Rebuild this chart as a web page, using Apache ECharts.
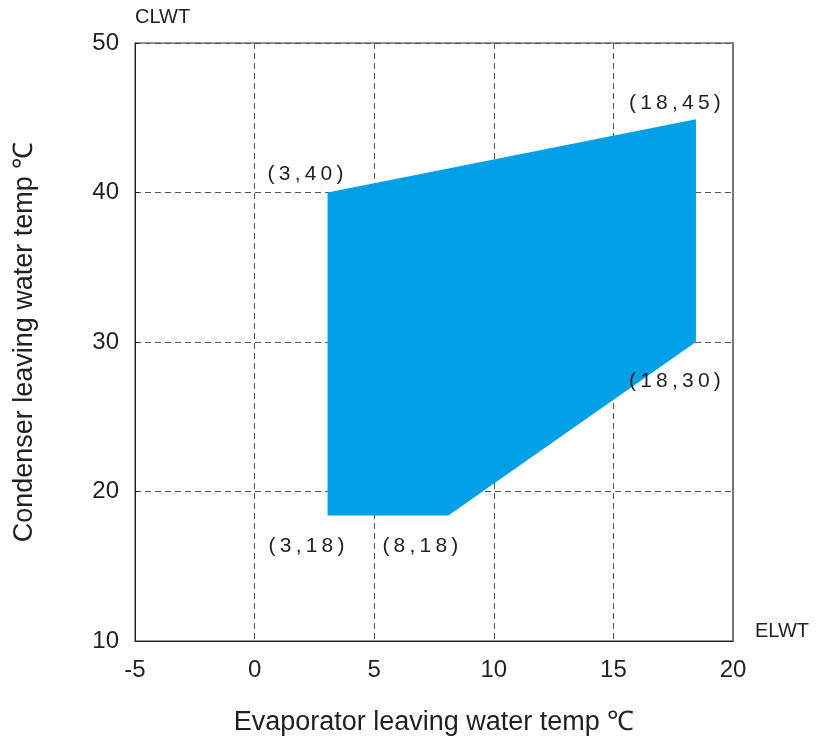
<!DOCTYPE html>
<html>
<head>
<meta charset="utf-8">
<script src="https://cdn.jsdelivr.net/npm/echarts@6/dist/echarts.min.js"></script>
<style>
  html, body { margin: 0; padding: 0; background: #fff; }
  #main { width: 816px; height: 738px; }
</style>
</head>
<body>
<div id="main"></div>
<script>
// operating envelope outline (ELWT, CLWT)
var envX = [3.05, 18.45, 18.45, 8.1, 3.05];
var envY = [40, 44.9, 30, 18.4, 18.4];
var cornerLabels = ['(3,40)', '(18,45)', '(18,30)', '(8,18)', '(3,18)'];

var xMin = -5, xMax = 20, xStep = 5;
var yMin = 10, yMax = 50, yStep = 10;

var ink = '#231f20';
var font = '"Liberation Sans", Arial, sans-serif';

// the printed corner labels are letter-spaced
function spaced(s) {
  return String(s).split('').join('\u2009');
}

var chart = echarts.init(document.getElementById('main'));

// label centre relative to its corner, px
var labelOffsets = [[-22, -18], [-21, -16], [-21, 39], [-28, 31], [-21, 31]];

var pts = envX.map(function (x, i) { return [x, envY[i]]; });

var gridDash = { color: '#555', type: [6, 4], width: 1 };

var option = {
  backgroundColor: '#fff',
  animation: false,
  grid: {
    left: 135, right: 83, top: 43, bottom: 97,
    outerBoundsMode: 'none',
    show: true,
    borderColor: '#333',
    borderWidth: 1
  },
  xAxis: {
    type: 'value',
    min: xMin, max: xMax, interval: xStep,
    name: 'Evaporator leaving water temp \u2103',
    nameLocation: 'middle',
    nameGap: 68,
    nameTextStyle: { color: ink, fontSize: 27, fontFamily: font },
    axisLine: { show: true, onZero: false, lineStyle: { color: ink, width: 1 } },
    axisTick: { show: false },
    axisLabel: { color: ink, fontSize: 24, fontFamily: font, margin: 17 },
    splitLine: { show: true, lineStyle: gridDash }
  },
  yAxis: [{
    type: 'value',
    min: yMin, max: yMax, interval: yStep,
    name: 'Condenser leaving water temp \u2103',
    nameLocation: 'middle',
    nameGap: 97,
    nameTextStyle: { color: ink, fontSize: 27, fontFamily: font },
    axisLine: { show: true, onZero: false, lineStyle: { color: ink, width: 1 } },
    axisTick: { show: true, inside: true, length: 4, lineStyle: { color: ink } },
    axisLabel: { color: ink, fontSize: 24, fontFamily: font, margin: 16 },
    splitLine: { show: true, lineStyle: gridDash }
  }, {
    type: 'value',
    position: 'right',
    min: yMin, max: yMax, interval: yStep,
    axisLine: { show: true, onZero: false, lineStyle: { color: '#777', width: 2 } },
    axisTick: { show: false },
    axisLabel: { show: false },
    splitLine: { show: false }
  }],
  graphic: [
    { type: 'text', left: 135, top: 7, style: { text: 'CLWT', fill: ink, fontSize: 20, fontFamily: font } },
    { type: 'text', left: 755, top: 621, style: { text: 'ELWT', fill: ink, fontSize: 20, fontFamily: font } }
  ],
  series: [{
    type: 'custom',
    coordinateSystem: 'cartesian2d',
    data: [0],
    renderItem: function (params, api) {
      var p = pts.map(function (d) { return api.coord(d); });
      return {
        type: 'polygon',
        shape: { points: p },
        style: { fill: '#00a0e6' }
      };
    },
    z: 3
  }, {
    type: 'custom',
    coordinateSystem: 'cartesian2d',
    data: pts,
    renderItem: function (params, api) {
      var c = api.coord([api.value(0), api.value(1)]);
      var off = labelOffsets[params.dataIndex];
      return {
        type: 'text',
        x: c[0] + off[0],
        y: c[1] + off[1],
        style: {
          text: spaced(cornerLabels[params.dataIndex]),
          fill: ink,
          fontSize: 21,
          fontFamily: font,
          align: 'center',
          verticalAlign: 'middle'
        }
      };
    },
    z: 4
  }]
};

chart.setOption(option);
</script>
</body>
</html>
